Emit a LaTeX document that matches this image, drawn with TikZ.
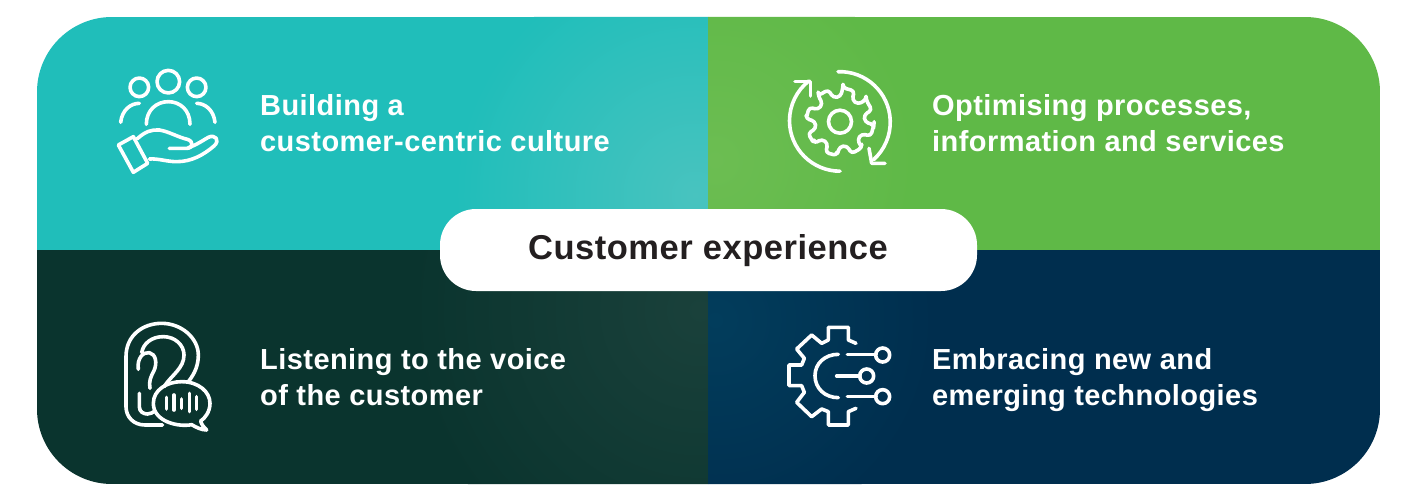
\documentclass[tikz,border=0pt]{standalone}
\usepackage{fontspec}
\setmainfont[LetterSpace=1.5]{Liberation Sans}
\usetikzlibrary{calc}
\definecolor{tealB}{HTML}{20BEBA}\definecolor{tealL}{HTML}{48C3BF}
\definecolor{greenB}{HTML}{5FB947}\definecolor{greenL}{HTML}{6CBD52}
\definecolor{darkB}{HTML}{0A342E}\definecolor{darkL}{HTML}{1A413B}
\definecolor{navyB}{HTML}{002E4E}\definecolor{navyL}{HTML}{023D5C}
\definecolor{inkC}{HTML}{231F20}
\tikzset{
 label text/.style={text=white,font=\fontsize{29}{36}\selectfont\bfseries,anchor=base west,inner sep=0pt},
 icon/.style={draw=white,line width=3.6pt,line cap=round,line join=round},
 zoomed/.style={x=0.33333pt,y=-0.33333pt}
}
\begin{document}
\begin{tikzpicture}[x=1pt,y=-1pt]
\useasboundingbox (0,0) rectangle (1406,503);
\fill[white] (0,0) rectangle (1406,503);
\begin{scope}
\clip[rounded corners=75pt] (37,17) rectangle (1380,484);
\fill[tealB] (37,17) rectangle (708,250);
\begin{scope}\clip (37,17) rectangle (708,250);
\shade[inner color=tealL,outer color=tealB] (695,195) circle (240pt);\end{scope}
\fill[greenB] (708,17) rectangle (1380,250);
\begin{scope}\clip (708,17) rectangle (1380,250);
\shade[inner color=greenL,outer color=greenB] (715,160) circle (200pt);\end{scope}
\fill[darkB] (37,250) rectangle (708,484);
\begin{scope}\clip (37,250) rectangle (708,484);
\shade[inner color=darkL,outer color=darkB] (700,310) circle (290pt);\end{scope}
\fill[navyB] (708,250) rectangle (1380,484);
\begin{scope}\clip (708,250) rectangle (1380,484);
\shade[inner color=navyL,outer color=navyB] (715,320) circle (220pt);\end{scope}
\end{scope}
\fill[white,rounded corners=36pt] (440,209) rectangle (977,291);
\node[text=inkC,font=\fontsize{34.5}{40}\selectfont\bfseries,inner sep=0pt,anchor=base] (title) at (708,259) {Customer experience};
\node[label text] (t1a) at (260,115.5) {Building a};
\node[label text] (t1b) at (260,151.5) {customer-centric culture};
\node[label text] (t2a) at (932,115.5) {Optimising processes,};
\node[label text] (t2b) at (932,151.5) {information and services};
\node[label text] (t3a) at (260,369.5) {Listening to the voice};
\node[label text] (t3b) at (260,405.5) {of the customer};
\node[label text] (t4a) at (932,369.5) {Embracing new and};
\node[label text] (t4b) at (932,405.5) {emerging technologies};
% icon 1: people and hand
\begin{scope}[shift={(100,60)},zoomed]
\draw[icon] (205,65) circle (11.3pt);
\draw[icon] (118,82) circle (9.3pt);
\draw[icon] (290,82) circle (9.3pt);
\draw[icon] (139,193) .. controls (139,150) and (170,125) .. (205,125) .. controls (240,125) and (270,150) .. (270,193);
\draw[icon] (62,187) .. controls (66,150) and (92,130) .. (118,130);
\draw[icon] (345,187) .. controls (341,150) and (315,130) .. (290,130);
\draw[icon] (55,255) -- (100,230) -- (143,310) -- (100,337) -- cycle;
\draw[icon] (112,236) .. controls (135,215) and (155,208) .. (178,210) .. controls (205,214) and (235,232) .. (262,238) .. controls (282,244) and (280,265) .. (260,265) -- (208,265);
\draw[icon] (265,263) .. controls (290,255) and (310,240) .. (325,232) .. controls (345,222) and (362,240) .. (342,258) .. controls (310,285) and (275,305) .. (230,305) .. controls (200,305) and (175,295) .. (148,297);
\end{scope}
% icon 2: gear and cycle arrows
\begin{scope}[shift={(840,121.7)}]
\draw[icon] (0,0) circle (11.5pt);
\draw[icon,rounded corners=3.5pt]
 (6:34) \foreach \a in {15,60,...,330} {
   -- ({\a-10}:34) -- ({\a+10}:34) -- ({\a+14}:25) -- ({\a+31}:25) -- ({\a+35}:34)
 } -- cycle;
\draw[icon] (-2,-50) arc[start angle=92,end angle=-48,radius=50.5pt];
\draw[icon] (0,49.5) arc[start angle=-90,end angle=-232,radius=50.5pt];
\end{scope}
\begin{scope}[shift={(770,60)},zoomed]
\draw[icon] (75,65) -- (122,65) -- (122,108);
\draw[icon] (297,265) -- (305,310) -- (345,310);
\end{scope}
% icon 3: ear and speech bubble
\begin{scope}[shift={(100,310)},zoomed]
\draw[icon] (188,345) -- (135,345) .. controls (100,345) and (78,320) .. (78,290) -- (78,140) .. controls (78,75) and (130,40) .. (185,40) .. controls (245,40) and (295,85) .. (295,135) .. controls (295,165) and (285,190) .. (265,215);
\draw[icon] (125,128) .. controls (130,100) and (155,80) .. (190,80) .. controls (225,80) and (252,105) .. (252,135) .. controls (252,175) and (215,195) .. (192,230);
\draw[icon] (115,178) .. controls (110,145) and (130,125) .. (148,128) .. controls (168,132) and (172,160) .. (162,182) .. controls (152,200) and (146,215) .. (150,235);
\draw[icon] (118,250) -- (118,290) .. controls (118,305) and (130,312) .. (142,312) .. controls (150,312) and (158,308) .. (165,303);
\draw[icon] (275,344) .. controls (235,352) and (160,335) .. (160,280) .. controls (160,240) and (200,215) .. (245,215) .. controls (295,215) and (330,245) .. (330,280) .. controls (330,305) and (315,325) .. (302,333) .. controls (305,345) and (312,352) .. (320,360) .. controls (305,360) and (288,352) .. (275,344) -- cycle;
\foreach \x/\a/\b in {200/262/297,222/255/300,245/267/295,268/250/305,290/260/298}
  \draw[icon] (\x,\a) -- (\x,\b);
\end{scope}
% icon 4: half gear and circuit
\begin{scope}[shift={(770,315)},zoomed]
\draw[icon] (258,85) -- (235,75) -- (235,37) -- (175,37) -- (175,75) -- (155,85) -- (125,60) -- (80,102) -- (103,130) -- (95,150) -- (57,150) -- (57,212) -- (95,212) -- (103,232) -- (80,262) -- (125,305) -- (155,282) -- (175,290) -- (175,330) -- (235,330) -- (235,290) -- (258,280);
\draw[icon] (205,118) .. controls (165,118) and (135,145) .. (135,182) .. controls (135,220) and (165,248) .. (205,248);
\draw[icon] (232,118) -- (318,118);
\draw[icon] (200,183) -- (270,183);
\draw[icon] (232,245) -- (318,245);
\draw[icon] (338,120) circle (7pt);
\draw[icon] (290,183) circle (7pt);
\draw[icon] (338,245) circle (7pt);
\end{scope}
\end{tikzpicture}
\end{document}
